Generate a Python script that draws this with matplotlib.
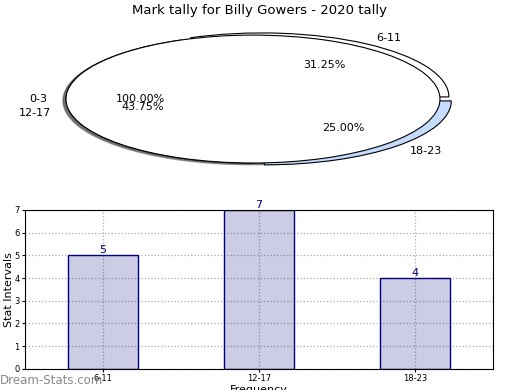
import numpy as np
import matplotlib.pyplot as plt
from matplotlib.transforms import ScaledTranslation

title = "Mark tally for Billy Gowers - 2020 tally"
intervals = ["6-11", "12-17", "18-23"]
tally = [5, 7, 4]
exploded = ["6-11", "18-23"]
empty_label = ["0-3"]
empty_value = [1]

fig = plt.figure(figsize=(5.2, 3.9), dpi=100)
fig.text(0.5, 0.972, title, ha='center', va='center', fontsize=9.5)

# pie part (stretched, not circular)
ax1 = fig.add_axes([0.037, 0.541, 0.899, 0.41])
wedges, texts, pcts = ax1.pie(tally, labels=intervals, autopct='%.2f%%',
                              colors=['white', 'white', '#c6dcff'],
                              shadow={'ox': -0.01, 'oy': -0.01},
                              wedgeprops={'edgecolor': 'black', 'linewidth': 0.8},
                              textprops={'fontsize': 8})
# push the exploded slices out, mostly sideways like the old renderer did
for lab, w, t, p in zip(intervals, wedges, texts, pcts):
    if lab in exploded:
        mid = np.deg2rad((w.theta1 + w.theta2) / 2)
        off = ScaledTranslation(0.16 * np.cos(mid), 0.026 * np.sin(mid), fig.dpi_scale_trans)
        for a in (w, t, p):
            a.set_transform(a.get_transform() + off)

ax1.pie(empty_value, labels=empty_label, autopct='%.2f%%', colors=['white'],
        shadow={'ox': -0.012, 'oy': -0.02},
        wedgeprops={'edgecolor': 'black', 'linewidth': 0.8},
        textprops={'fontsize': 8})
ax1.set_aspect('auto')
ax1.set_xlim(-1.25, 1.25)
ax1.set_ylim(-1.25, 1.25)
ax1.axis('off')

# bar part
ax2 = fig.add_axes([0.048, 0.054, 0.9, 0.408])
x = range(len(intervals))
ax2.bar(x, tally, width=0.45, color=(0, 0, 0.5, 0.2), edgecolor='navy', linewidth=1)
for i, v in zip(x, tally):
    ax2.text(i, v, str(v), ha='center', va='bottom', color='navy', fontsize=8)
ax2.set_xlim(-0.5, 2.5)
ax2.set_ylim(0, 7)
ax2.set_xticks(list(x))
ax2.set_xticklabels(intervals)
ax2.set_yticks(range(8))
ax2.tick_params(labelsize=6, length=2, pad=2)
ax2.grid(True, linestyle=':', color='#aaaaaa', linewidth=0.9)
ax2.set_axisbelow(True)
ax2.set_ylabel("Stat Intervals", fontsize=8)
ax2.yaxis.set_label_coords(-0.024, 0.5)
ax2.set_xlabel("Frequency", fontsize=8, labelpad=1)

fig.text(0.0, 0.025, "Dream-Stats.com", color='#888888', fontsize=8.5,
         ha='left', va='center')

fig.savefig("out.png", dpi=100)
